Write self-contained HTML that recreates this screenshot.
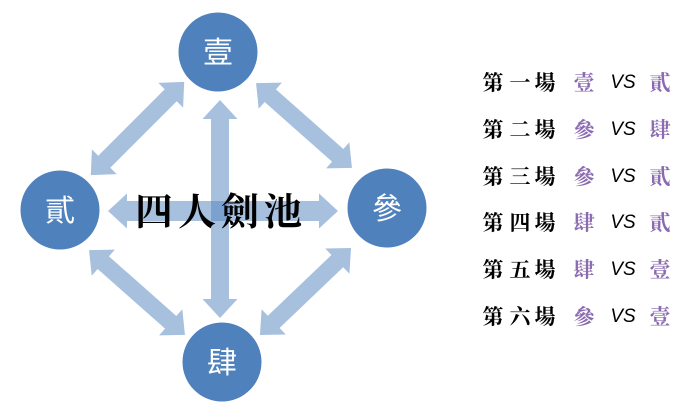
<!DOCTYPE html>
<html><head><meta charset="utf-8"><style>
html,body{margin:0;padding:0;background:#fff}
body{width:690px;height:414px;position:relative;overflow:hidden}
svg{position:absolute;left:0;top:0}
.row{position:absolute;left:480px;height:30px;font-family:"Liberation Serif","Noto Serif CJK SC",serif;font-weight:bold;font-size:21px;line-height:30px}
.row span{position:absolute;top:0;width:26px;text-align:center}
.p{color:#8a6bb0}
.vs{font-family:"Liberation Sans",sans-serif;font-style:italic;font-weight:normal;font-size:19px;width:30px!important}
</style></head><body>
<svg width="690" height="414" viewBox="0 0 690 414">
<g fill="rgba(79,129,189,0.5)">
<g transform="translate(220,209) rotate(90)"><polygon points="-109,0 -90,-17.5 -90,-9 90,-9 90,-17.5 109,0 90,17.5 90,9 -90,9 -90,17.5"/></g>
<g transform="translate(223,211)"><polygon points="-115,0 -96,-17.5 -96,-10 96,-10 96,-17.5 115,0 96,17.5 96,10 -96,10 -96,17.5"/></g>
<g transform="translate(137.5,128.5) rotate(135)"><polygon points="-66,0 -47,-17.5 -47,-8.5 47,-8.5 47,-17.5 66,0 47,17.5 47,8.5 -47,8.5 -47,17.5"/></g>
<g transform="translate(304,125.5) rotate(41.5)"><polygon points="-64,0 -45,-17.5 -45,-8.5 45,-8.5 45,-17.5 64,0 45,17.5 45,8.5 -45,8.5 -45,17.5"/></g>
<g transform="translate(137,292.5) rotate(41.5)"><polygon points="-64,0 -45,-17.5 -45,-8.5 45,-8.5 45,-17.5 64,0 45,17.5 45,8.5 -45,8.5 -45,17.5"/></g>
<g transform="translate(305.5,291.5) rotate(136.3)"><polygon points="-63,0 -44,-17.5 -44,-8.5 44,-8.5 44,-17.5 63,0 44,17.5 44,8.5 -44,8.5 -44,17.5"/></g>
</g>
<g fill="#4f81bd">
<circle cx="218" cy="52" r="39.5"/>
<circle cx="60" cy="210" r="39.5"/>
<circle cx="387" cy="208" r="39.5"/>
<circle cx="222" cy="362" r="39.5"/>
</g>
<g fill="#fff" font-family="Liberation Sans,Noto Sans CJK TC,sans-serif" font-size="30" text-anchor="middle">
<text x="218" y="63">壹</text>
<text x="60" y="221">貳</text>
<text x="387" y="219">參</text>
<text x="222" y="373">肆</text>
</g>
<text x="221" y="225" text-anchor="middle" font-family="Liberation Serif,Noto Serif CJK SC,serif" font-weight="bold" font-size="38" letter-spacing="5" fill="#000">四人劍池</text>
</svg>
<div class="row" style="top:68px"><span style="left:0">第</span><span style="left:27px">一</span><span style="left:52px">場</span><span class="p" style="left:91px">壹</span><span class="vs" style="left:128px">VS</span><span class="p" style="left:167px">貳</span></div>
<div class="row" style="top:115px"><span style="left:0">第</span><span style="left:27px">二</span><span style="left:52px">場</span><span class="p" style="left:91px">參</span><span class="vs" style="left:128px">VS</span><span class="p" style="left:167px">肆</span></div>
<div class="row" style="top:162px"><span style="left:0">第</span><span style="left:27px">三</span><span style="left:52px">場</span><span class="p" style="left:91px">參</span><span class="vs" style="left:128px">VS</span><span class="p" style="left:167px">貳</span></div>
<div class="row" style="top:208px"><span style="left:0">第</span><span style="left:27px">四</span><span style="left:52px">場</span><span class="p" style="left:91px">肆</span><span class="vs" style="left:128px">VS</span><span class="p" style="left:167px">貳</span></div>
<div class="row" style="top:255px"><span style="left:0">第</span><span style="left:27px">五</span><span style="left:52px">場</span><span class="p" style="left:91px">肆</span><span class="vs" style="left:128px">VS</span><span class="p" style="left:167px">壹</span></div>
<div class="row" style="top:302px"><span style="left:0">第</span><span style="left:27px">六</span><span style="left:52px">場</span><span class="p" style="left:91px">參</span><span class="vs" style="left:128px">VS</span><span class="p" style="left:167px">壹</span></div>
</body></html>
